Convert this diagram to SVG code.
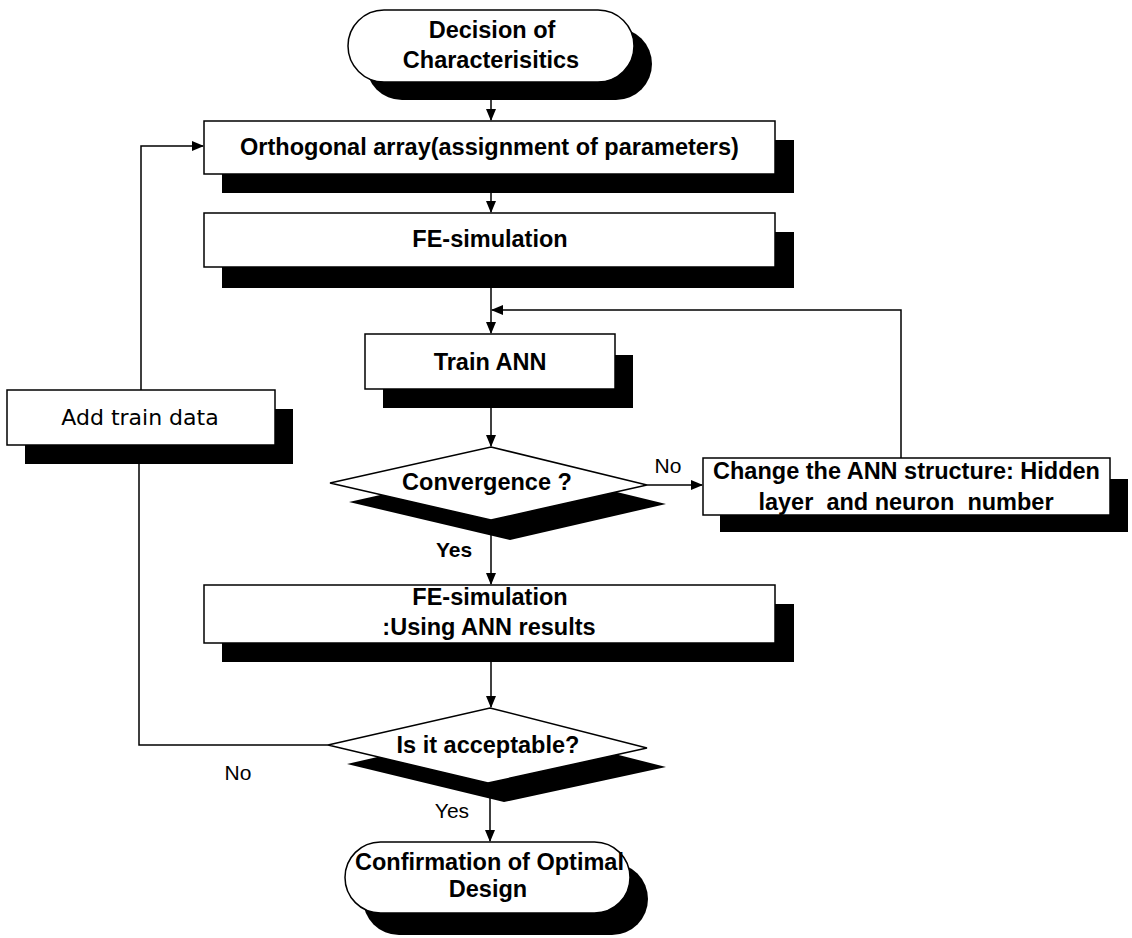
<svg xmlns="http://www.w3.org/2000/svg" width="1132" height="938" viewBox="0 0 1132 938">
<style>
.box{fill:#fff;stroke:#000;stroke-width:1.5}
.sh{fill:#000;stroke:none}
.ln{fill:none;stroke:#000;stroke-width:1.5}
.t{font-family:"Liberation Sans",Arial,sans-serif;font-weight:bold;font-size:23.5px;fill:#000;text-anchor:middle}
.lbl{font-family:"Liberation Sans",Arial,sans-serif;font-size:21px;fill:#000;text-anchor:middle}
.dv{font-family:"DejaVu Sans",sans-serif;font-size:22px;fill:#000;text-anchor:middle}
</style>
<defs>
<marker id="ah" markerWidth="12" markerHeight="10" refX="11" refY="5" orient="auto" markerUnits="userSpaceOnUse">
<path d="M0,0 L12,5 L0,10 Z" fill="#000"/>
</marker>
</defs>
<rect width="1132" height="938" fill="#fff"/>

<g id="connectors">
<line class="ln" x1="491" y1="100" x2="491" y2="120" marker-end="url(#ah)"/>
<line class="ln" x1="491" y1="193" x2="491" y2="212" marker-end="url(#ah)"/>
<line class="ln" x1="491" y1="287" x2="491" y2="333" marker-end="url(#ah)"/>
<polyline class="ln" points="901,458 901,310 492,310" marker-end="url(#ah)"/>
<line class="ln" x1="491" y1="408" x2="491" y2="446" marker-end="url(#ah)"/>
<line class="ln" x1="647" y1="485" x2="702" y2="485" marker-end="url(#ah)"/>
<line class="ln" x1="491" y1="520" x2="491" y2="584" marker-end="url(#ah)"/>
<line class="ln" x1="491" y1="662" x2="491" y2="707" marker-end="url(#ah)"/>
<line class="ln" x1="490" y1="783" x2="490" y2="841" marker-end="url(#ah)"/>
<polyline class="ln" points="328,745 139,745 139,464"/>
<polyline class="ln" points="141,390 141,146 203,146" marker-end="url(#ah)"/>
</g>

<g id="n-decision">
<rect class="sh" x="366" y="28" width="286" height="72" rx="36"/>
<rect class="box" x="348" y="10" width="286" height="72" rx="36"/>
<text class="t" x="492" y="38">Decision of</text>
<text class="t" x="491" y="68">Characterisitics</text>
</g>

<g id="n-orthogonal">
<rect class="sh" x="222" y="140" width="572" height="53"/>
<rect class="box" x="204" y="121" width="571" height="53"/>
<text class="t" x="489.5" y="155">Orthogonal array(assignment of parameters)</text>
</g>

<g id="n-fesim">
<rect class="sh" x="222" y="232" width="572" height="56"/>
<rect class="box" x="204" y="213" width="571" height="54"/>
<text class="t" x="490" y="247">FE-simulation</text>
</g>

<g id="n-train">
<rect class="sh" x="383" y="355" width="250" height="53"/>
<rect class="box" x="365" y="334" width="250" height="55"/>
<text class="t" x="490" y="370">Train ANN</text>
</g>

<g id="n-addtrain">
<rect class="sh" x="25" y="409" width="268" height="55"/>
<rect class="box" x="7" y="390" width="268" height="55"/>
<text class="dv" x="140" y="425">Add train data</text>
</g>

<g id="n-convergence">
<polygon class="sh" points="510,466 666,504 510,540 349,502"/>
<polygon class="box" points="491,447 647,485 491,520 330,483"/>
<text class="t" x="487" y="490">Convergence ?</text>
<text class="lbl" x="668" y="473">No</text>
<text class="t" x="454" y="557" style="font-size:21px">Yes</text>
</g>

<g id="n-change">
<rect class="sh" x="720" y="479" width="408" height="53"/>
<rect class="box" x="703" y="458" width="407" height="57"/>
<text class="t" x="906.5" y="479">Change the ANN structure: Hidden</text>
<text class="t" x="906" y="510" style="white-space:pre">layer  and neuron  number</text>
</g>

<g id="n-fesim2">
<rect class="sh" x="222" y="604" width="572" height="58"/>
<rect class="box" x="204" y="585" width="571" height="58"/>
<text class="t" x="490" y="605">FE-simulation</text>
<text class="t" x="489" y="635">:Using ANN results</text>
</g>

<g id="n-acceptable">
<polygon class="sh" points="508,727 666,767 504,802 347,764"/>
<polygon class="box" points="490,708 647,748 488,783 328,745"/>
<text class="t" x="488" y="753">Is it acceptable?</text>
<text class="lbl" x="238" y="780">No</text>
<text class="lbl" x="452" y="818">Yes</text>
</g>

<g id="n-confirm">
<rect class="sh" x="363" y="863" width="285" height="72" rx="36"/>
<rect class="box" x="345" y="842" width="285" height="71" rx="35.5"/>
<text class="t" x="489.5" y="870">Confirmation of Optimal</text>
<text class="t" x="488" y="897">Design</text>
</g>
</svg>
